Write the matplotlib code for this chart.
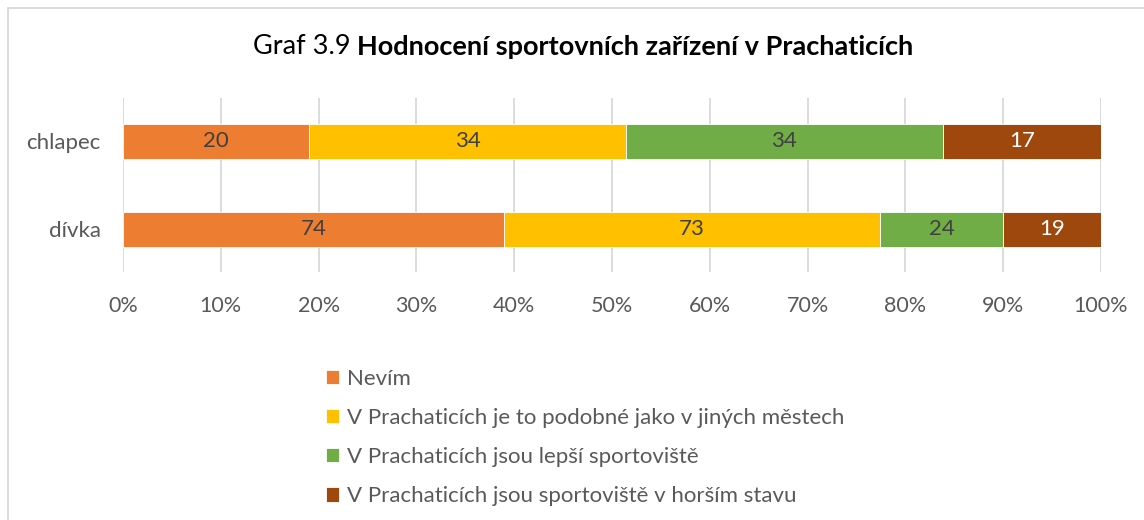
import matplotlib
matplotlib.use("Agg")
import matplotlib.pyplot as plt
from matplotlib.patches import Rectangle
import numpy as np

categories = ["dívka", "chlapec"]
series_names = [
    "Nevím",
    "V Prachaticích je to podobné jako v jiných městech",
    "V Prachaticích jsou lepší sportoviště",
    "V Prachaticích jsou sportoviště v horším stavu",
]
nevim = [74, 20]
podobne = [73, 34]
lepsi = [24, 34]
horsi = [19, 17]
ticks = [0, 10, 20, 30, 40, 50, 60, 70, 80, 90, 100]
tick_labels = [f"{t}%" for t in ticks]

colors = ["#ED7D31", "#FFC000", "#70AD47", "#9E480E"]
label_colors = ["#404040", "#404040", "#404040", "#FFFFFF"]

plt.rcParams['font.family'] = ['Lato', 'DejaVu Sans']

W, H = 1144, 520
fig = plt.figure(figsize=(W / 100, H / 100), dpi=100)
ax = fig.add_axes([123 / W, 1 - 272 / H, (1101 - 123) / W, (272 - 98) / H])

data = np.array([nevim, podobne, lepsi, horsi], dtype=float)
totals = data.sum(axis=0)
pct = data / totals * 100
y = np.arange(len(categories))
left = np.zeros(len(categories))
for i in range(len(series_names)):
    ax.barh(y, pct[i], left=left, height=0.4, color=colors[i],
            label=series_names[i], zorder=3, edgecolor='white', linewidth=0.6)
    for j in range(len(categories)):
        ax.text(left[j] + pct[i][j] / 2, y[j], f"{int(data[i][j])}",
                ha='center', va='center', fontsize=16, color=label_colors[i], zorder=4)
    left += pct[i]

ax.set_xlim(0, 100)
ax.set_ylim(-0.483, 1.494)
ax.set_xticks(ticks)
ax.set_xticklabels(tick_labels, fontsize=15.5, color="#595959")
ax.set_yticks(y)
ax.set_yticklabels(categories, fontsize=16, color="#595959")
ax.tick_params(axis='both', length=0)
ax.tick_params(axis='y', pad=16)
ax.tick_params(axis='x', pad=17)
ax.grid(axis='x', color="#D9D9D9", linewidth=1.3, zorder=0)
for s in ax.spines.values():
    s.set_visible(False)

# title composed of regular + bold parts
title_fs = 19.5
t1 = fig.text(0, 0, "Graf 3.9 ", fontsize=title_fs)
t2 = fig.text(0, 0, "Hodnocení sportovních zařízení v Prachaticích", fontsize=title_fs, fontweight='bold')
fig.canvas.draw()
r = fig.canvas.get_renderer()
w1 = t1.get_window_extent(r).width
w2 = t2.get_window_extent(r).width
t1.remove()
t2.remove()
cx = 583
x0 = cx - (w1 + w2) / 2
fig.text(x0 / W, 1 - 47 / H, "Graf 3.9 ", fontsize=title_fs, va='center', ha='left', color="#000000")
fig.text((x0 + w1) / W, 1 - 47 / H, "Hodnocení sportovních zařízení v Prachaticích",
         fontsize=title_fs, fontweight='bold', va='center', ha='left', color="#000000")

handles, labels = ax.get_legend_handles_labels()
fig.legend(handles, labels, loc='upper left', bbox_to_anchor=(306 / W, 1 - 349 / H),
           frameon=False, fontsize=16, labelcolor="#595959",
           handlelength=0.6, handleheight=0.6, handletextpad=0.35, labelspacing=0.86)

fig.patches.append(Rectangle((8 / W, -0.05), 1.1, 1 - 8 / H + 0.05, transform=fig.transFigure,
                             fill=False, edgecolor="#D9D9D9", linewidth=1.3))

fig.savefig("out.png", dpi=100, facecolor='white')
